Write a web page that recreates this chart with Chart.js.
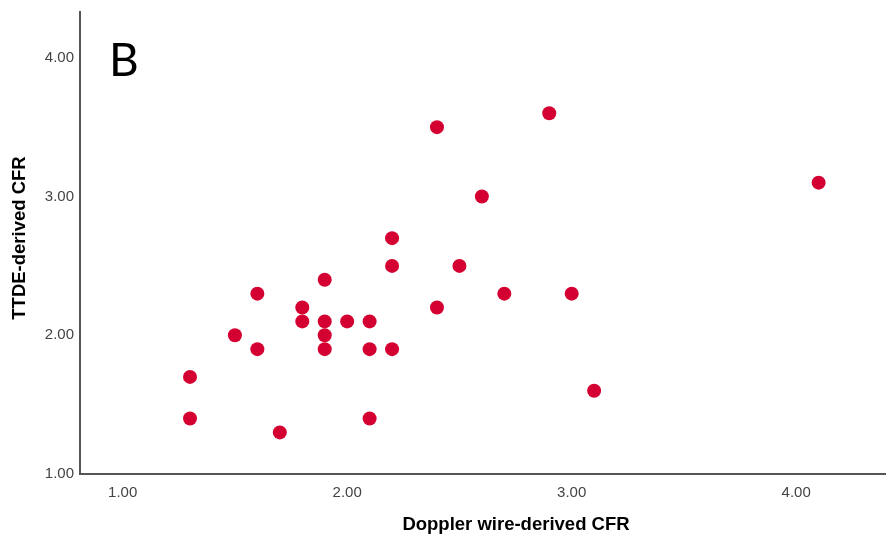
<!DOCTYPE html>
<html>
<head>
<meta charset="utf-8">
<script src="https://cdn.jsdelivr.net/npm/chart.js@4"></script>
<style>
  html, body { margin: 0; padding: 0; background: #fff; overflow: hidden; }
  #wrap { width: 886px; height: 544px; }
  canvas { display: block; }
</style>
</head>
<body>
<div id="wrap"><canvas id="chart" width="886" height="544"></canvas></div>
<script>
// DATA
const dopplerCFR = [1.3, 1.3, 1.5, 1.6, 1.6, 1.7, 1.8, 1.8, 1.9, 1.9, 1.9, 1.9, 2.0, 2.1, 2.1, 2.1, 2.2, 2.2, 2.2, 2.4, 2.4, 2.5, 2.6, 2.7, 2.9, 3.0, 3.1, 4.1];
const ttdeCFR    = [1.7, 1.4, 2.0, 2.3, 1.9, 1.3, 2.2, 2.1, 2.4, 2.1, 2.0, 1.9, 2.1, 2.1, 1.9, 1.4, 2.7, 2.5, 1.9, 3.5, 2.2, 2.5, 3.0, 2.3, 3.6, 2.3, 1.6, 3.1];
const xTicks = [1, 2, 3, 4];
const yTicks = [1, 2, 3, 4];
const xTitle = "Doppler wire-derived CFR";
const yTitle = "TTDE-derived CFR";
const panelLabel = "B";

const points = dopplerCFR.map((x, i) => ({ x, y: ttdeCFR[i] }));

// titles + panel letter drawn on the canvas at fixed spots
const textPlugin = {
  id: "texts",
  afterDraw(chart) {
    const ctx = chart.ctx;
    ctx.save();
    ctx.fillStyle = "#000";
    ctx.font = "bold 18.5px 'Liberation Sans', Arial";
    ctx.textAlign = "center";
    ctx.textBaseline = "middle";
    ctx.fillText(xTitle, 516, 525);
    ctx.translate(20, 238);
    ctx.rotate(-Math.PI / 2);
    ctx.fillText(yTitle, 0, 0);
    ctx.restore();

    ctx.save();
    ctx.fillStyle = "#000";
    ctx.font = "46px Lato, 'Open Sans', sans-serif";
    ctx.textAlign = "left";
    ctx.textBaseline = "alphabetic";
    ctx.fillText(panelLabel, 109, 76);
    ctx.restore();
  },
};

const tickFont = { family: "'Liberation Sans', Arial", size: 15 };

// no automatic room for edge labels; the frame is fixed by hand
function noPad(s) {
  s.paddingTop = 0;
  s.paddingBottom = 0;
  s.paddingLeft = 0;
  s.paddingRight = 0;
}

new Chart(document.getElementById("chart"), {
  type: "scatter",
  data: {
    datasets: [
      {
        data: points,
        backgroundColor: "#d40031",
        borderColor: "#d40031",
        pointRadius: 7,
        pointHoverRadius: 7,
        borderWidth: 0,
      },
    ],
  },
  options: {
    responsive: false,
    animation: false,
    layout: { autoPadding: false, padding: { top: 12, right: 0, left: 0, bottom: 0 } },
    plugins: { legend: { display: false }, tooltip: { enabled: false } },
    scales: {
      x: {
        type: "linear",
        min: 0.81,
        max: 4.4,
        afterBuildTicks: (s) => { s.ticks = xTicks.map((v) => ({ value: v })); },
        afterFit: (s) => { s.height = 70; noPad(s); },
        grid: { display: false, drawTicks: false },
        border: { display: true, color: "#555", width: 2 },
        ticks: {
          color: "#444",
          font: tickFont,
          padding: 10,
          maxRotation: 0,
          callback: (v) => Number(v).toFixed(2),
        },
      },
      y: {
        type: "linear",
        min: 1,
        max: 4.33,
        afterBuildTicks: (s) => { s.ticks = yTicks.map((v) => ({ value: v })); },
        afterFit: (s) => { s.width = 80; noPad(s); },
        grid: { display: false, drawTicks: false },
        border: { display: true, color: "#555", width: 2 },
        ticks: {
          color: "#444",
          font: tickFont,
          padding: 6,
          callback: (v) => Number(v).toFixed(2),
        },
      },
    },
  },
  plugins: [textPlugin],
});
</script>
</body>
</html>
